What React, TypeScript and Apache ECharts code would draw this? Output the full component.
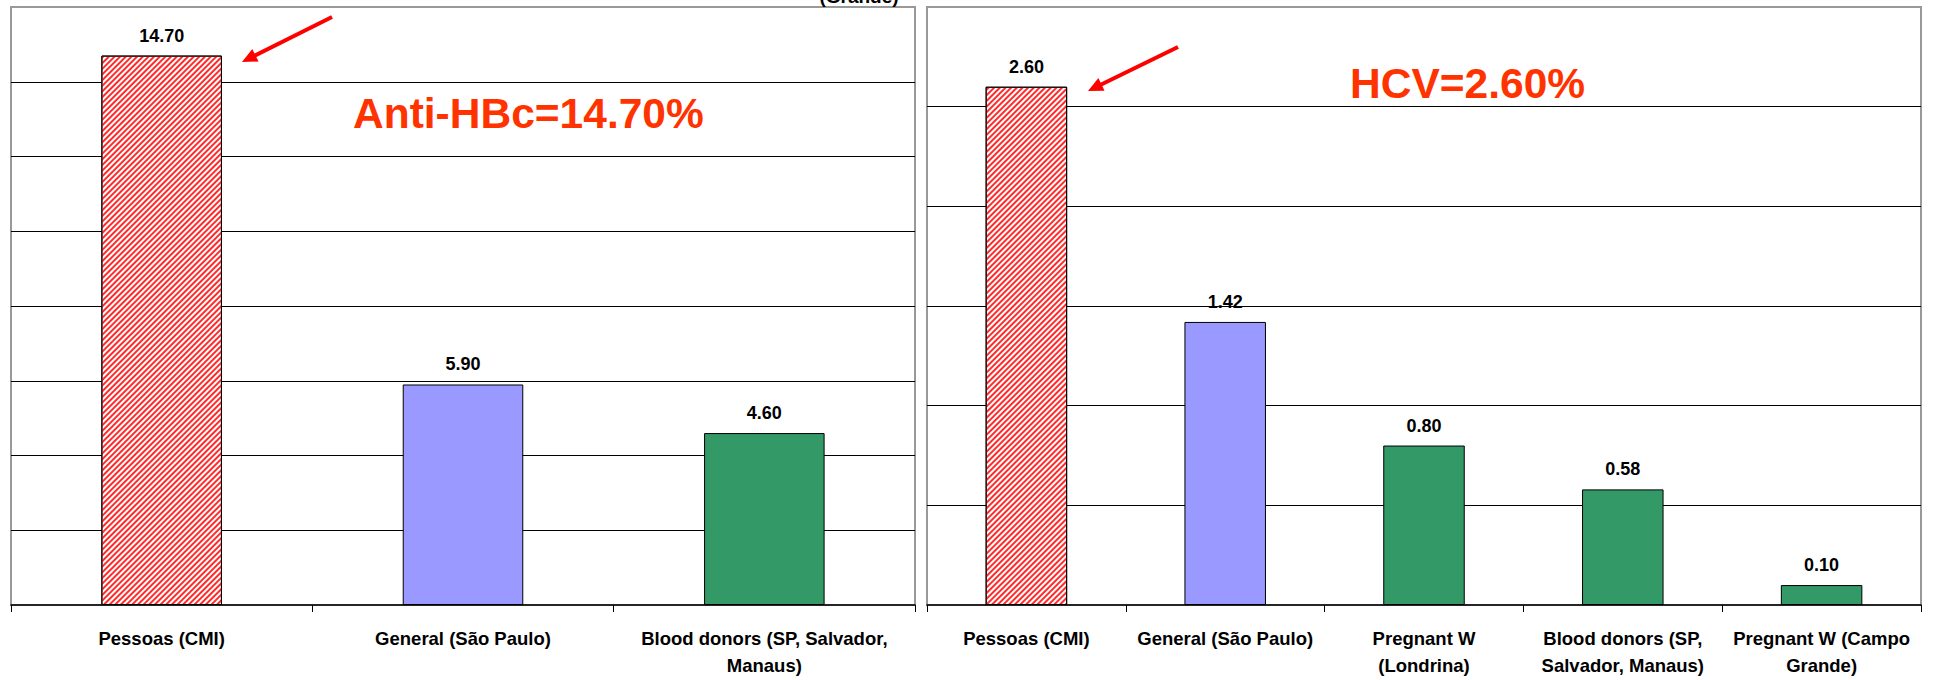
import React, { useEffect, useRef } from 'react';
import * as echarts from 'echarts';

// Anti-HBc prevalence (%)
const hbcCategories = ['Pessoas (CMI)', 'General (São Paulo)', 'Blood donors (SP, Salvador,\nManaus)'];
const hbcValues = [14.7, 5.9, 4.6];
const hbcKinds = ['hatch', 'blue', 'green'];

// HCV prevalence (%)
const hcvCategories = [
  'Pessoas (CMI)',
  'General (São Paulo)',
  'Pregnant W\n(Londrina)',
  'Blood donors (SP,\nSalvador, Manaus)',
  'Pregnant W (Campo\nGrande)',
];
const hcvValues = [2.6, 1.42, 0.8, 0.58, 0.1];
const hcvKinds = ['hatch', 'blue', 'green', 'green', 'green'];

const hbcTitle = 'Anti-HBc=14.70%';
const hcvTitle = 'HCV=2.60%';

const LABEL_FONT = "'Liberation Sans', Arial, sans-serif";
const TITLE_FONT = "'Liberation Sans', Arial, sans-serif";
const ACCENT = '#FF3300';

function barStyle(kind: string) {
  if (kind === 'hatch') {
    return {
      color: '#ffffff',
      borderColor: '#000000',
      borderWidth: 1,
      decal: {
        symbol: 'rect',
        symbolSize: 1,
        color: '#ff2a2a',
        dashArrayX: [1, 0],
        dashArrayY: [1.5, 1.5],
        rotation: -Math.PI / 4,
      },
    };
  }
  return {
    color: kind === 'blue' ? '#9999FF' : '#339966',
    borderColor: '#000000',
    borderWidth: 1,
  };
}

function arrow(x1: number, y1: number, x2: number, y2: number) {
  const dx = x2 - x1;
  const dy = y2 - y1;
  const len = Math.sqrt(dx * dx + dy * dy);
  const ux = dx / len;
  const uy = dy / len;
  const head = 15;
  const half = 7;
  const bx = x2 - ux * head;
  const by = y2 - uy * head;
  return {
    type: 'group',
    children: [
      {
        type: 'line',
        shape: { x1, y1, x2: bx + ux * 2, y2: by + uy * 2 },
        style: { stroke: '#FF0000', lineWidth: 4 },
      },
      {
        type: 'polygon',
        shape: {
          points: [
            [x2, y2],
            [bx - uy * half, by + ux * half],
            [bx + uy * half, by - ux * half],
          ],
        },
        style: { fill: '#FF0000' },
      },
    ],
  };
}

function xAxisFor(gridIndex: number, data: string[]) {
  return {
    type: 'category',
    gridIndex,
    data,
    axisLine: { show: true, lineStyle: { color: '#000', width: 1.5 } },
    axisTick: { show: true, length: 7, lineStyle: { color: '#000', width: 1 } },
    axisLabel: {
      interval: 0,
      margin: 20,
      color: '#000',
      fontFamily: LABEL_FONT,
      fontWeight: 'bold',
      fontSize: 18.5,
      lineHeight: 27,
      align: 'center',
    },
  };
}

function yAxisFor(gridIndex: number, max: number, interval: number) {
  return {
    type: 'value',
    gridIndex,
    min: 0,
    max,
    interval,
    axisLine: { show: false },
    axisTick: { show: false },
    axisLabel: { show: false },
    splitLine: {
      show: true,
      showMinLine: false,
      showMaxLine: false,
      lineStyle: { color: '#000', width: 1 },
    },
  };
}

function seriesFor(index: number, values: number[], kinds: string[], barWidth: string) {
  return {
    type: 'bar',
    xAxisIndex: index,
    yAxisIndex: index,
    barWidth,
    data: values.map((v, i) => ({ value: v, itemStyle: barStyle(kinds[i]) })),
    label: {
      show: true,
      position: 'top',
      distance: 11,
      color: '#000',
      fontFamily: LABEL_FONT,
      fontWeight: 'bold',
      fontSize: 18,
      formatter: (p: any) => Number(p.value).toFixed(2),
    },
  };
}

export default function App() {
  const ref = useRef<HTMLDivElement>(null);

  useEffect(() => {
    if (!ref.current) return;
    const chart = echarts.init(ref.current, undefined, { renderer: 'svg' });
    chart.setOption({
      animation: false,
      backgroundColor: '#ffffff',
      grid: [
        { left: 11, top: 7, width: 904, height: 598, show: true, borderColor: '#999', borderWidth: 2, backgroundColor: 'transparent' },
        { left: 927, top: 7, width: 994, height: 598, show: true, borderColor: '#999', borderWidth: 2, backgroundColor: 'transparent' },
      ],
      xAxis: [xAxisFor(0, hbcCategories), xAxisFor(1, hcvCategories)],
      yAxis: [yAxisFor(0, 16, 2), yAxisFor(1, 3, 0.5)],
      series: [
        seriesFor(0, hbcValues, hbcKinds, '40%'),
        seriesFor(1, hcvValues, hcvKinds, '41%'),
      ],
      graphic: [
        {
          type: 'text',
          x: 859,
          y: 6,
          style: {
            text: '(Grande)',
            fill: '#000',
            font: `bold 19px ${LABEL_FONT}`,
            align: 'center',
            verticalAlign: 'bottom',
          },
        },
        {
          type: 'text',
          x: 353,
          y: 113,
          style: {
            text: hbcTitle,
            fill: ACCENT,
            font: `bold 42.5px ${TITLE_FONT}`,
            align: 'left',
            verticalAlign: 'middle',
          },
        },
        {
          type: 'text',
          x: 1350,
          y: 83,
          style: {
            text: hcvTitle,
            fill: ACCENT,
            font: `bold 42.5px ${TITLE_FONT}`,
            align: 'left',
            verticalAlign: 'middle',
          },
        },
        arrow(332, 17, 242, 62),
        arrow(1178, 47, 1088, 91),
      ],
    });
    return () => chart.dispose();
  }, []);

  return (
    <div
      ref={ref}
      style={{ position: 'fixed', left: 0, top: 0, width: 1939, height: 680, background: '#fff' }}
    />
  );
}
